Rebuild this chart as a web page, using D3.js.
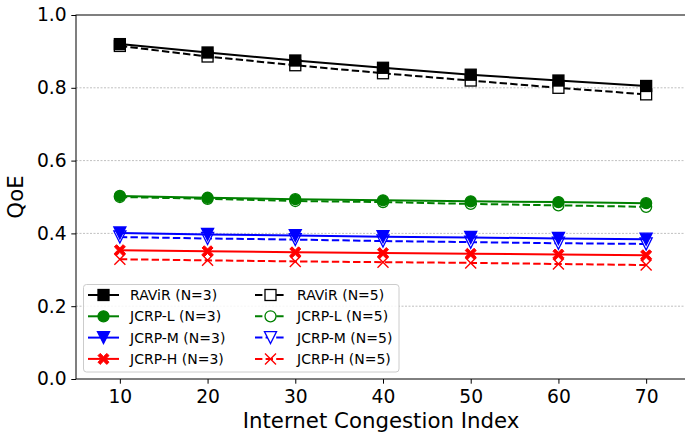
<!DOCTYPE html>
<html>
<head>
<meta charset="utf-8">
<script src="https://cdn.jsdelivr.net/npm/d3@7"></script>
<style>
  body { margin: 0; background: #fff; }
  svg { font-family: "DejaVu Sans", sans-serif; }
</style>
</head>
<body>
<div id="chart"></div>
<script>
// congestion index on the x axis
const congestion = [10, 20, 30, 40, 50, 60, 70];
const yTicks = [0.0, 0.2, 0.4, 0.6, 0.8, 1.0];

const ravir3 = [0.920, 0.897, 0.875, 0.855, 0.836, 0.820, 0.805];
const ravir5 = [0.915, 0.886, 0.862, 0.840, 0.820, 0.800, 0.782];
const jcrpL3 = [0.503, 0.498, 0.494, 0.491, 0.488, 0.486, 0.483];
const jcrpL5 = [0.500, 0.495, 0.489, 0.486, 0.481, 0.477, 0.473];
const jcrpM3 = [0.401, 0.397, 0.394, 0.391, 0.389, 0.386, 0.384];
const jcrpM5 = [0.390, 0.386, 0.383, 0.379, 0.376, 0.373, 0.371];
const jcrpH3 = [0.354, 0.351, 0.348, 0.346, 0.344, 0.342, 0.340];
const jcrpH5 = [0.329, 0.326, 0.323, 0.321, 0.319, 0.316, 0.313];

const series = [
  { name: "RAViR (N=3)", vals: ravir3, color: "black", marker: "square", open: false, dash: false },
  { name: "RAViR (N=5)", vals: ravir5, color: "black", marker: "square", open: true, dash: true },
  { name: "JCRP-L (N=3)", vals: jcrpL3, color: "green", marker: "circle", open: false, dash: false },
  { name: "JCRP-L (N=5)", vals: jcrpL5, color: "green", marker: "circle", open: true, dash: true },
  { name: "JCRP-M (N=3)", vals: jcrpM3, color: "blue", marker: "tri", open: false, dash: false },
  { name: "JCRP-M (N=5)", vals: jcrpM5, color: "blue", marker: "tri", open: true, dash: true },
  { name: "JCRP-H (N=3)", vals: jcrpH3, color: "red", marker: "xfill", open: false, dash: false },
  { name: "JCRP-H (N=5)", vals: jcrpH5, color: "red", marker: "x", open: true, dash: true }
];

const W = 685, H = 435;
const mLeft = 76, mRight = 690, mTop = 15, mBottom = 379;
const FONT = "DejaVu Sans, sans-serif";

const svg = d3.select("#chart").append("svg")
  .attr("width", W).attr("height", H);

const x = d3.scaleLinear().domain([5, 75]).range([mLeft, mRight]);
const y = d3.scaleLinear().domain([0, 1]).range([mBottom, mTop]);

// grid
svg.append("g").selectAll("line")
  .data(yTicks.filter(d => d > 0 && d < 1))
  .join("line")
  .attr("x1", mLeft).attr("x2", mRight)
  .attr("y1", d => y(d)).attr("y2", d => y(d))
  .attr("stroke", "#b0b0b0").attr("stroke-width", 0.8)
  .attr("stroke-dasharray", "2,1.5");

function drawMarker(g, type, open, color, size) {
  const s = size;
  const fill = open ? "white" : color;
  if (type === "square") {
    g.append("rect").attr("x", -s / 2).attr("y", -s / 2).attr("width", s).attr("height", s)
      .attr("fill", fill).attr("stroke", color).attr("stroke-width", 1.3);
  } else if (type === "circle") {
    g.append("circle").attr("r", s / 2)
      .attr("fill", fill).attr("stroke", color).attr("stroke-width", 1.3);
  } else if (type === "tri") {
    const h = s * 0.55;
    g.append("path").attr("d", `M${-h},${-h}L${h},${-h}L0,${h}Z`)
      .attr("fill", fill).attr("stroke", color).attr("stroke-width", 1.3);
  } else if (type === "xfill") {
    const a = s * 0.5, b = s * 0.2;
    const p = `M${-a},${-a + b}L${-a + b},${-a}L0,${-b}L${a - b},${-a}L${a},${-a + b}L${b},0L${a},${a - b}L${a - b},${a}L0,${b}L${-a + b},${a}L${-a},${a - b}L${-b},0Z`;
    g.append("path").attr("d", p).attr("fill", color).attr("stroke", color).attr("stroke-width", 1);
  } else if (type === "x") {
    const a = s * 0.5;
    g.append("path").attr("d", `M${-a},${-a}L${a},${a}M${-a},${a}L${a},${-a}`)
      .attr("stroke", color).attr("stroke-width", 1.4).attr("fill", "none");
  }
}

const line = d3.line().x(d => x(d[0])).y(d => y(d[1]));

// draw N=5 first so solid series sit on top
const order = [1, 3, 5, 7, 0, 2, 4, 6];
order.forEach(i => {
  const s = series[i];
  const pts = congestion.map((c, k) => [c, s.vals[k]]);
  const g = svg.append("g");
  g.append("path").attr("d", line(pts))
    .attr("fill", "none").attr("stroke", s.color).attr("stroke-width", 2)
    .attr("stroke-dasharray", s.dash ? "7.4,3.2" : null);
  pts.forEach(p => {
    const m = g.append("g").attr("transform", `translate(${x(p[0])},${y(p[1])})`);
    drawMarker(m, s.marker, s.open, s.color, 11);
  });
});

// axes frame
svg.append("rect").attr("x", mLeft).attr("y", mTop)
  .attr("width", mRight - mLeft).attr("height", mBottom - mTop)
  .attr("fill", "none").attr("stroke", "black").attr("stroke-width", 1);

const xAxis = svg.append("g").attr("transform", `translate(0,${mBottom})`)
  .call(d3.axisBottom(x).tickValues(congestion).tickSize(4.7).tickPadding(6).tickFormat(d3.format("d")));
xAxis.select(".domain").remove();
xAxis.attr("font-family", FONT);
xAxis.selectAll("text").attr("font-size", 18.7).attr("fill", "black");

const yAxis = svg.append("g").attr("transform", `translate(${mLeft},0)`)
  .call(d3.axisLeft(y).tickValues(yTicks).tickSize(4.7).tickPadding(4.7).tickFormat(d3.format(".1f")));
yAxis.select(".domain").remove();
yAxis.attr("font-family", FONT);
yAxis.selectAll("text").attr("font-size", 18.7).attr("fill", "black");

svg.append("text").attr("x", 381).attr("y", 428)
  .attr("text-anchor", "middle").attr("font-size", 21.3).text("Internet Congestion Index");
svg.append("text").attr("transform", `translate(23,${(mTop + mBottom) / 2}) rotate(-90)`)
  .attr("text-anchor", "middle").attr("font-size", 21.3).text("QoE");

// legend
const lg = svg.append("g").attr("transform", "translate(83,284)");
lg.append("rect").attr("x", 0.5).attr("y", 0.5).attr("width", 315.5).attr("height", 87.5).attr("rx", 3)
  .attr("fill", "white").attr("fill-opacity", 0.85).attr("stroke", "#cccccc");
series.forEach((s, i) => {
  const col = i % 2, row = Math.floor(i / 2);
  const gx = 5 + col * 167, gy = 11 + row * 21.3;
  const item = lg.append("g").attr("transform", `translate(${gx},${gy})`);
  item.append("line").attr("x1", 0).attr("x2", 31).attr("y1", 0).attr("y2", 0)
    .attr("stroke", s.color).attr("stroke-width", 2)
    .attr("stroke-dasharray", s.dash ? "7.4,3.2" : null);
  const m = item.append("g").attr("transform", "translate(15.5,0)");
  drawMarker(m, s.marker, s.open, s.color, 11);
  item.append("text").attr("x", 42).attr("y", 5).attr("font-size", 14).text(s.name);
});
</script>
</body>
</html>
